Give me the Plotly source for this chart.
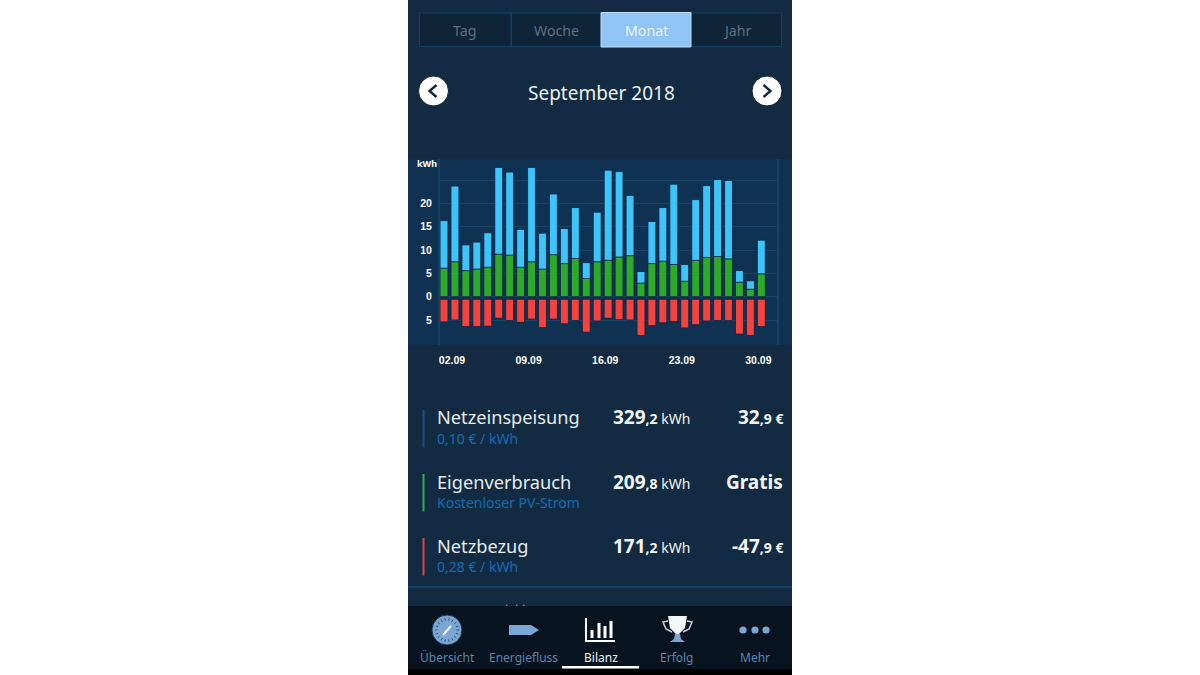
import math

import plotly.graph_objects as go

# chart data (kWh per day)
days = list(range(1, 31))
eigenverbrauch = [6.1, 7.5, 5.6, 5.9, 6.3, 9.1, 8.9, 6.3, 7.5, 5.9,
                  9.0, 7.1, 8.2, 3.9, 7.5, 7.8, 8.5, 8.8, 2.9, 7.1,
                  7.6, 6.9, 3.3, 7.8, 8.4, 8.6, 8.1, 3.1, 1.6, 4.9]
netzeinspeisung = [10.2, 16.2, 5.5, 5.8, 7.4, 18.6, 17.8, 8.1, 20.2, 7.7,
                   13.0, 7.5, 10.9, 3.4, 10.6, 19.3, 18.3, 12.9, 2.5, 9.0,
                   11.5, 17.2, 3.6, 13.0, 15.4, 16.5, 16.8, 2.5, 1.8, 7.2]
netzbezug = [5.4, 5.0, 6.4, 6.4, 6.3, 4.6, 5.1, 5.5, 4.8, 6.6,
             4.8, 5.8, 5.1, 7.6, 5.2, 4.6, 4.9, 5.0, 8.3, 6.2,
             5.6, 5.3, 6.7, 6.0, 5.2, 5.1, 5.1, 8.0, 8.3, 6.4]

x_tick_days = [2, 9, 16, 23, 30]
x_tick_labels = ["02.09", "09.09", "16.09", "23.09", "30.09"]
y_tick_vals = [-5, 0, 5, 10, 15, 20, 25]
y_tick_labels = ["5", "0", "5", "10", "15", "20", ""]

tabs = ["Tag", "Woche", "Monat", "Jahr"]
tab_x = [464, 556, 646, 737]
row_names = ["Netzeinspeisung", "Eigenverbrauch", "Netzbezug"]
row_notes = ["0,10 € / kWh", "Kostenloser PV-Strom", "0,28 € / kWh"]
row_kwh = [("329", ",2"), ("209", ",8"), ("171", ",2")]
row_euro = [("32", ",9 €"), ("Gratis", ""), ("-47", ",9 €")]
row_colors = ["#174f86", "#2fb040", "#e0443f"]
nav_labels = ["Übersicht", "Energiefluss", "Bilanz", "Erfolg", "Mehr"]
nav_x = [447, 523.5, 600.5, 677, 755]

BG = "#122b42"
PANEL = "#0f3252"
FONT = "Noto Sans"
W, H = 1200, 675


def fx(x):
    return x / W


def fy(y):
    return 1 - y / H


shapes = []
annotations = []


def rect(x0, y0, x1, y1, fill, line=None, width=0):
    shapes.append(dict(type="rect", xref="paper", yref="paper", layer="below",
                       x0=fx(x0), x1=fx(x1), y0=fy(y0), y1=fy(y1),
                       fillcolor=fill, line=dict(color=line or fill, width=width)))


def circle(cx, cy, r, fill, line=None, width=0):
    shapes.append(dict(type="circle", xref="paper", yref="paper", layer="below",
                       x0=fx(cx - r), x1=fx(cx + r), y0=fy(cy + r), y1=fy(cy - r),
                       fillcolor=fill, line=dict(color=line or fill, width=width)))


def poly(points, fill=None, line=None, width=0, closed=True):
    path = "M" + " L".join(f"{fx(x):.5f},{fy(y):.5f}" for x, y in points)
    if closed:
        path += " Z"
    shapes.append(dict(type="path", xref="paper", yref="paper", layer="below", path=path,
                       fillcolor=fill if fill else "rgba(0,0,0,0)",
                       line=dict(color=line or "rgba(0,0,0,0)", width=width)))


def text(x, y, s, size, color, anchor="center", weight=None):
    annotations.append(dict(xref="paper", yref="paper", x=fx(x), y=fy(y), text=s,
                            showarrow=False, xanchor=anchor, yanchor="middle",
                            borderpad=0, borderwidth=0,
                            font=dict(family=FONT, size=size, color=color,
                                      weight=weight or 400)))


# app background
rect(408, 0, 792, 675, BG)
rect(408, 159, 792, 345, PANEL)

# period tabs
rect(419.5, 13, 781.5, 46.5, "#0e2438", "#14405f", 1)
rect(511, 13, 511.5, 46.5, "#14405f", "#14405f", 1)
rect(601, 12.5, 691, 47, "#90c4f4", "#bcdcf8", 1)
for i in range(4):
    active = tabs[i] == "Monat"
    text(tab_x[i], 30.5, tabs[i], 14.2, "#e8f2fb" if active else "#5b7082")

# month switcher
text(601, 93, "September 2018", 19, "#eaf0f5")
for cx, tip, back in [(433.5, 429.5, 436.5), (767, 770.5, 763.5)]:
    circle(cx, 91, 15, "#ffffff", "#0c2033", 1)
    poly([(back, 85), (tip, 91), (back, 97)], line="#14283c", width=2.4, closed=False)

# summary rows
for i in range(3):
    top = 410 + i * 64
    rect(422.5, top, 424.5, top + 37.5, row_colors[i])
    text(436.5, top + 7.5, row_names[i], 18.2, "#e6ebef", "left")
    text(436.5, top + 28, row_notes[i], 14, "#0b6cb0", "left")
    text(690, top + 7.5,
         f"<b>{row_kwh[i][0]}<span style='font-size:14px'>{row_kwh[i][1]}</span></b>"
         f"<span style='font-size:14px'> kWh</span>",
         19, "#f2f4f6", "right")
    text(783, top + 7.5,
         f"<b>{row_euro[i][0]}<span style='font-size:14px'>{row_euro[i][1]}</span></b>",
         19, "#f2f4f6", "right")

# cut off row and tab bar
rect(408, 586.5, 792, 587.5, "#0d5a85")
rect(408, 606, 792, 669, "#07141f")
rect(408, 669, 792, 675, "#000000")
rect(562, 666, 639, 668.5, "#ffffff")
for dot_x in [506, 516, 523]:
    rect(dot_x, 604.5, dot_x + 1.5, 606, "#5f7f9d")

ICON = "#7ba6d3"
for i in range(5):
    text(nav_x[i], 657, nav_labels[i], 12, "#eef3f7" if nav_labels[i] == "Bilanz" else "#5a84ad")

# gauge icon
circle(447, 630, 15, ICON, "#16344f", 1)
for k in range(18):
    a = k * math.pi / 9
    poly([(447 + 9.5 * math.cos(a), 630 + 9.5 * math.sin(a)),
          (447 + 12 * math.cos(a), 630 + 12 * math.sin(a))],
         line="#2d5476", width=1, closed=False)
poly([(443, 635), (451, 626)], line="#f1f5f9", width=2, closed=False)
# flow arrow icon
poly([(509, 625), (531, 625), (539, 630), (531, 635), (509, 635)], fill=ICON)
# balance icon
poly([(586, 618), (586, 641), (615, 641)], line="#ffffff", width=2, closed=False)
for bar_x, bar_top in [(592, 630), (599, 623), (605, 626), (611, 621)]:
    rect(bar_x - 1.5, bar_top, bar_x + 1.5, 638, "#ffffff")
# trophy icon
poly([(668, 621), (663, 622), (666, 629), (672, 632)], line="#c9d3dc", width=1.5, closed=False)
poly([(687, 621), (692, 622), (689, 629), (683, 632)], line="#c9d3dc", width=1.5, closed=False)
poly([(668, 616), (687, 616), (685, 628), (679, 634), (676, 634), (670, 628)], fill="#f4f6f8")
poly([(675, 634), (680, 634), (681, 639), (685, 642), (670, 642), (674, 639)], fill=ICON)
# more icon
for dot_x in [743, 755, 766]:
    circle(dot_x, 630, 3.6, ICON)

# kWh unit above the y axis
text(427, 164, "kWh", 9, "#ffffff", weight=700)

# red bars start a little below zero in the app
bezug_gap = 0.55

fig = go.Figure()
bar_line = dict(color="#0b2540", width=0.8)
fig.add_trace(go.Bar(x=days, y=eigenverbrauch, base=0, width=0.72,
                     marker=dict(color="#2eaa2a", line=bar_line)))
fig.add_trace(go.Bar(x=days, y=netzeinspeisung, base=eigenverbrauch, width=0.72,
                     marker=dict(color="#3cc4fb", line=bar_line)))
fig.add_trace(go.Bar(x=days, y=[bezug_gap - v for v in netzbezug], base=-bezug_gap, width=0.72,
                     marker=dict(color="#f4433f", line=bar_line)))

tick_font = dict(family="Liberation Sans", size=10.5, color="#ffffff", weight=700)
fig.update_layout(
    width=W,
    height=H,
    margin=dict(l=0, r=0, t=0, b=0),
    autosize=False,
    paper_bgcolor="#ffffff",
    plot_bgcolor="rgba(0,0,0,0)",
    barmode="overlay",
    showlegend=False,
    shapes=shapes,
    annotations=annotations,
    xaxis=dict(domain=[fx(440), fx(777)], range=[0.634, 31.43],
               tickvals=[d - 0.27 for d in x_tick_days], ticktext=x_tick_labels,
               showgrid=False, zeroline=False, showline=False, ticks="",
               ticklabelstandoff=7, tickfont=tick_font),
    yaxis=dict(domain=[fy(345), fy(159)], range=[-10.35, 29.5],
               tickvals=y_tick_vals, ticktext=y_tick_labels,
               showgrid=True, gridcolor="#17436a", gridwidth=1,
               zeroline=True, zerolinecolor="#17436a", zerolinewidth=1,
               showline=True, mirror=True, linecolor="#134063", linewidth=2,
               ticks="", ticklabelstandoff=4, tickfont=tick_font),
)

# the page's default body margin would push the figure off by 8px
fig.write_html("out.html", config={"displayModeBar": False},
               post_script="document.body.style.margin='0';document.body.style.overflow='hidden';")
